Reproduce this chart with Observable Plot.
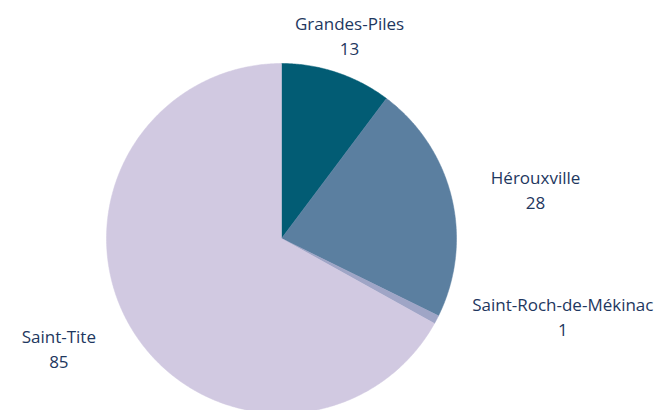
<!DOCTYPE html>
<html>
<head>
<meta charset="utf-8">
<script src="https://cdn.jsdelivr.net/npm/d3@7"></script>
<script src="https://cdn.jsdelivr.net/npm/@observablehq/plot@0.6"></script>
<style>
  html, body { margin: 0; padding: 0; background: #fff; }
</style>
</head>
<body>
<div id="chart"></div>
<script>
const names = ["Grandes-Piles", "Hérouxville", "Saint-Roch-de-Mékinac", "Saint-Tite"];
const values = [13, 28, 1, 85];
const colors = ["#025c74", "#5b7fa0", "#9fa5c6", "#d1c9e1"];

// layout / style settings
const W = 655, H = 410;
const cx = 281, cy = 238, R = 175;
const labelR = 1.23;
const labelNudge = {"Saint-Roch-de-Mékinac": 0.13}; // upward nudge (radius units) to avoid crowding
const FONT_SIZE = 17;
const FONT = "'Open Sans', Roboto, sans-serif";

const ctx = document.createElement("canvas").getContext("2d");
ctx.font = `${FONT_SIZE}px ${FONT}`;
const textW = s => ctx.measureText(s).width;

const pie = d3.pie().sort(null).value(d => d.value)(names.map((n, i) => ({name: n, value: values[i]})));

const polys = [];
const labels = [];
for (const s of pie) {
  const a0 = s.startAngle, a1 = s.endAngle;
  polys.push({name: s.data.name, x: 0, y: 0});
  const n = Math.max(2, Math.ceil((a1 - a0) / (Math.PI / 360)));
  for (let j = 0; j <= n; j++) {
    const a = a0 + (a1 - a0) * j / n;
    polys.push({name: s.data.name, x: Math.sin(a), y: Math.cos(a)});
  }
  polys.push({name: s.data.name, x: 0, y: 0});
  const m = (a0 + a1) / 2;
  const sx = Math.sin(m);
  const blockW = Math.max(textW(s.data.name), textW(String(s.data.value))) / R;
  const side = Math.abs(sx) < 0.5 ? 0 : (sx > 0 ? 1 : -1);
  labels.push({
    text: s.data.name + "\n" + s.data.value,
    x: labelR * sx + side * blockW / 2,
    y: labelR * Math.cos(m) + (labelNudge[s.data.name] || 0)
  });
}

const chart = Plot.plot({
  width: W,
  height: H,
  margin: 0,
  x: {domain: [-cx / R, (W - cx) / R], range: [0, W], axis: null},
  y: {domain: [-(H - cy) / R, cy / R], range: [H, 0], axis: null},
  color: {domain: names, range: colors},
  style: {fontFamily: FONT, background: "#fff"},
  marks: [
    Plot.line(polys, {x: "x", y: "y", z: "name", fill: "name", stroke: "name", strokeWidth: 0.5, curve: "linear"}),
    Plot.text(labels, {
      x: "x", y: "y", text: "text", textAnchor: "middle", lineAnchor: "middle",
      lineHeight: 25 / FONT_SIZE, fontSize: FONT_SIZE, fill: "#1e3760"
    })
  ]
});
document.getElementById("chart").appendChild(chart);
</script>
</body>
</html>
